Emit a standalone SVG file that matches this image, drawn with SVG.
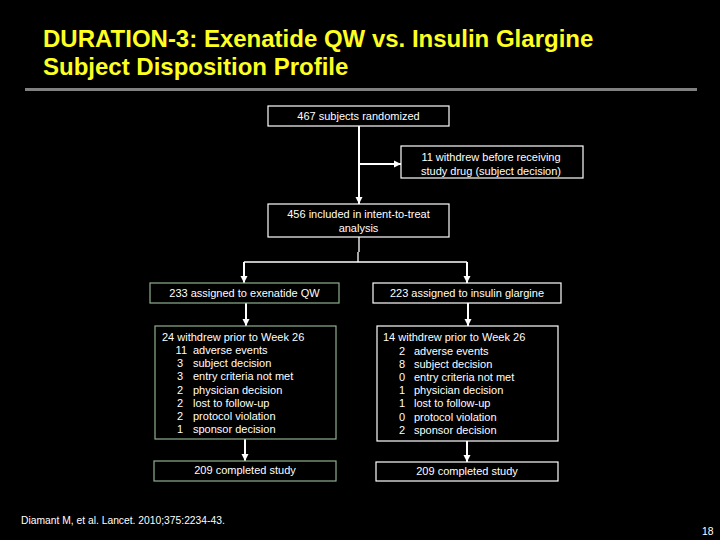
<svg xmlns="http://www.w3.org/2000/svg" width="720" height="540" viewBox="0 0 720 540">
<style>
text{font-family:"Liberation Sans",Arial,sans-serif;fill:#fff;font-size:11px}
.t{fill:#ffff20;font-weight:bold;font-size:24px}
.c{text-anchor:middle}
.bw{fill:#000;stroke:#fff;stroke-width:1.2}
.bg{fill:#000;stroke:#8fb08f;stroke-width:1.2}
.ln{fill:none;stroke:#fff;stroke-width:2}
.ft{font-size:10.3px}
</style>
<defs>
<marker id="ah" markerUnits="userSpaceOnUse" markerWidth="8" markerHeight="8" refX="7" refY="4" orient="auto">
<path d="M0,0.5 L7,4 L0,7.5 Z" fill="#fff"/>
</marker>
</defs>
<rect width="720" height="540" fill="#000"/>
<text class="t" x="43" y="47">DURATION-3: Exenatide QW vs. Insulin Glargine</text>
<text class="t" x="43" y="75">Subject Disposition Profile</text>
<rect x="25" y="88" width="672" height="3" fill="#808080"/>

<g id="connectors">
<path class="ln" d="M359,126 V204" marker-end="url(#ah)"/>
<path class="ln" d="M359,164 H401" marker-end="url(#ah)"/>
<path class="ln" style="stroke-width:1.3" d="M359,237 V252 M358,252 V262"/>
<path class="ln" style="stroke-width:1.5" d="M244,262 H467"/>
<path class="ln" d="M244,262 V283" marker-end="url(#ah)"/>
<path class="ln" d="M467,262 V283" marker-end="url(#ah)"/>
<path class="ln" d="M246,303 V326" marker-end="url(#ah)"/>
<path class="ln" d="M468,303 V326" marker-end="url(#ah)"/>
<path class="ln" d="M245,439 V461" marker-end="url(#ah)"/>
<path class="ln" d="M467,441 V462" marker-end="url(#ah)"/>
</g>

<g id="randomized">
<rect class="bw" x="268" y="106" width="181" height="20"/>
<text class="c" x="358.5" y="120">467 subjects randomized</text>
</g>
<g id="withdrew-before">
<rect class="bw" x="401" y="146" width="182" height="32"/>
<text class="c" x="491" y="161">11 withdrew before receiving</text>
<text class="c" x="491" y="175">study drug (subject decision)</text>
</g>
<g id="itt">
<rect class="bw" x="268" y="204" width="181" height="33"/>
<text class="c" x="358.5" y="218">456 included in intent-to-treat</text>
<text class="c" x="358.5" y="232">analysis</text>
</g>
<g id="exenatide">
<rect class="bg" x="150" y="283" width="189" height="20"/>
<text class="c" x="244.5" y="297">233 assigned to exenatide QW</text>
</g>
<g id="glargine">
<rect class="bw" x="373" y="283" width="188" height="20"/>
<text class="c" x="467" y="297">223 assigned to insulin glargine</text>
</g>
<g id="exenatide-withdrew">
<rect class="bg" x="155" y="326" width="181" height="113"/>
<text x="162" y="341">24 withdrew prior to Week 26</text>
<g text-anchor="end">
<text x="187" y="354">11</text>
<text x="183" y="367">3</text>
<text x="183" y="380">3</text>
<text x="183" y="394">2</text>
<text x="183" y="407">2</text>
<text x="183" y="420">2</text>
<text x="183" y="433">1</text>
</g>
<text x="193" y="354">adverse events</text>
<text x="193" y="367">subject decision</text>
<text x="193" y="380">entry criteria not met</text>
<text x="193" y="394">physician decision</text>
<text x="193" y="407">lost to follow-up</text>
<text x="193" y="420">protocol violation</text>
<text x="193" y="433">sponsor decision</text>
</g>
<g id="glargine-withdrew">
<rect class="bw" x="377" y="326" width="181" height="115"/>
<text x="383" y="341">14 withdrew prior to Week 26</text>
<g text-anchor="end">
<text x="405" y="355">2</text>
<text x="405" y="368">8</text>
<text x="405" y="381">0</text>
<text x="405" y="394">1</text>
<text x="405" y="407">1</text>
<text x="405" y="421">0</text>
<text x="405" y="434">2</text>
</g>
<text x="414" y="355">adverse events</text>
<text x="414" y="368">subject decision</text>
<text x="414" y="381">entry criteria not met</text>
<text x="414" y="394">physician decision</text>
<text x="414" y="407">lost to follow-up</text>
<text x="414" y="421">protocol violation</text>
<text x="414" y="434">sponsor decision</text>
</g>
<g id="exenatide-completed">
<rect class="bg" x="154" y="461" width="182" height="20"/>
<text class="c" x="245" y="474">209 completed study</text>
</g>
<g id="glargine-completed">
<rect class="bw" x="376" y="462" width="182" height="19"/>
<text class="c" x="467" y="475">209 completed study</text>
</g>
<text class="ft" x="21" y="524">Diamant M, et al. Lancet. 2010;375:2234-43.</text>
<text class="ft" x="702" y="535">18</text>
</svg>
